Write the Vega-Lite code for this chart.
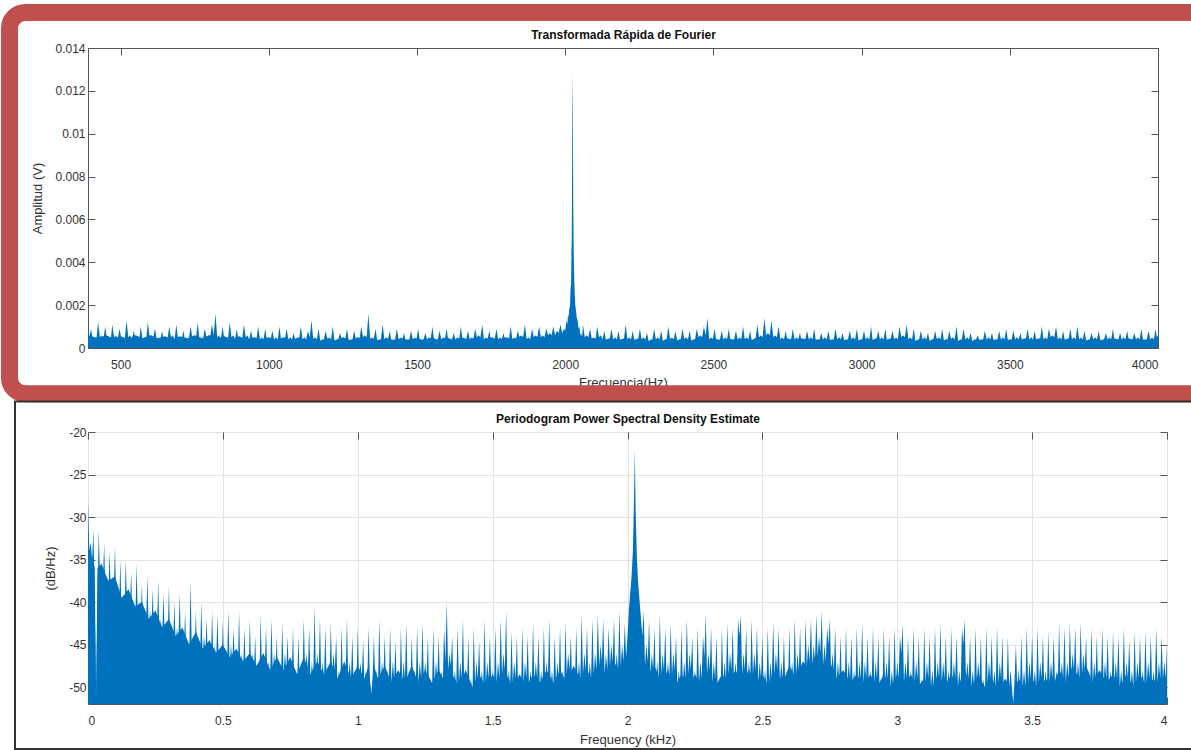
{
"$schema": "https://vega.github.io/schema/vega-lite/v6.json",
"padding": {"left": 0, "top": 3, "right": 0, "bottom": 0},
"background": "white",
"spacing": -4,
"config": {
  "font": "Liberation Sans",
  "view": {"stroke": "#555555", "strokeWidth": 1},
  "axis": {"labelFont": "Liberation Sans", "labelFontSize": 12, "labelColor": "#333333", "titleFont": "Liberation Sans", "titleFontSize": 13, "titleFontWeight": "normal", "titleColor": "#333333", "domain": false, "tickColor": "#555555", "tickSize": -7, "grid": false}
},
"vconcat": [
{
  "width": 1070, "height": 300,
  "data": {"values": [
{"f":390,"a":0.0010},{"f":395,"a":0.0005},{"f":400,"a":0.0009},{"f":406,"a":0.0004},{"f":412,"a":0.0005},{"f":418,"a":0.0004},{"f":424,"a":0.0012},{"f":430,"a":0.0005},{"f":436,"a":0.0006},{"f":442,"a":0.0004},{"f":448,"a":0.0010},{"f":454,"a":0.0004},{"f":460,"a":0.0004},{"f":466,"a":0.0003},{"f":472,"a":0.0011},{"f":478,"a":0.0005},{"f":484,"a":0.0006},{"f":490,"a":0.0004},{"f":496,"a":0.0009},{"f":502,"a":0.0005},{"f":508,"a":0.0005},{"f":514,"a":0.0004},{"f":520,"a":0.0013},{"f":526,"a":0.0005},{"f":532,"a":0.0006},{"f":538,"a":0.0004},{"f":544,"a":0.0008},{"f":550,"a":0.0004},{"f":556,"a":0.0004},{"f":562,"a":0.0003},{"f":568,"a":0.0010},{"f":574,"a":0.0004},{"f":580,"a":0.0005},{"f":586,"a":0.0004},{"f":592,"a":0.0012},{"f":598,"a":0.0005},{"f":604,"a":0.0006},{"f":610,"a":0.0005},{"f":616,"a":0.0009},{"f":622,"a":0.0004},{"f":628,"a":0.0005},{"f":634,"a":0.0004},{"f":640,"a":0.0008},{"f":646,"a":0.0003},{"f":652,"a":0.0004},{"f":658,"a":0.0004},{"f":664,"a":0.0010},{"f":670,"a":0.0005},{"f":676,"a":0.0006},{"f":682,"a":0.0004},{"f":688,"a":0.0011},{"f":694,"a":0.0004},{"f":700,"a":0.0005},{"f":706,"a":0.0004},{"f":712,"a":0.0008},{"f":718,"a":0.0003},{"f":724,"a":0.0004},{"f":730,"a":0.0004},{"f":736,"a":0.0010},{"f":742,"a":0.0005},{"f":748,"a":0.0006},{"f":754,"a":0.0004},{"f":760,"a":0.0012},{"f":766,"a":0.0004},{"f":772,"a":0.0005},{"f":778,"a":0.0004},{"f":784,"a":0.0009},{"f":790,"a":0.0005},{"f":796,"a":0.0006},{"f":802,"a":0.0005},{"f":808,"a":0.0011},{"f":814,"a":0.0006},{"f":820,"a":0.0016},{"f":826,"a":0.0005},{"f":832,"a":0.0006},{"f":838,"a":0.0004},{"f":844,"a":0.0010},{"f":850,"a":0.0004},{"f":856,"a":0.0005},{"f":862,"a":0.0004},{"f":868,"a":0.0012},{"f":874,"a":0.0005},{"f":880,"a":0.0006},{"f":886,"a":0.0004},{"f":892,"a":0.0009},{"f":898,"a":0.0003},{"f":904,"a":0.0004},{"f":910,"a":0.0004},{"f":916,"a":0.0011},{"f":922,"a":0.0005},{"f":928,"a":0.0006},{"f":934,"a":0.0004},{"f":940,"a":0.0008},{"f":946,"a":0.0004},{"f":952,"a":0.0005},{"f":958,"a":0.0004},{"f":964,"a":0.0010},{"f":970,"a":0.0004},{"f":976,"a":0.0005},{"f":982,"a":0.0004},{"f":988,"a":0.0009},{"f":994,"a":0.0003},{"f":1000,"a":0.0004},{"f":1006,"a":0.0004},
{"f":1012,"a":0.0008},{"f":1018,"a":0.0004},{"f":1024,"a":0.0005},{"f":1030,"a":0.0004},{"f":1036,"a":0.0010},{"f":1042,"a":0.0003},{"f":1048,"a":0.0004},{"f":1054,"a":0.0004},{"f":1060,"a":0.0009},{"f":1066,"a":0.0004},{"f":1072,"a":0.0005},{"f":1078,"a":0.0004},{"f":1084,"a":0.0007},{"f":1090,"a":0.0003},{"f":1096,"a":0.0004},{"f":1102,"a":0.0004},{"f":1108,"a":0.0010},{"f":1114,"a":0.0004},{"f":1120,"a":0.0005},{"f":1126,"a":0.0004},{"f":1132,"a":0.0008},{"f":1138,"a":0.0005},{"f":1144,"a":0.0013},{"f":1150,"a":0.0004},{"f":1156,"a":0.0005},{"f":1162,"a":0.0004},{"f":1168,"a":0.0009},{"f":1174,"a":0.0003},{"f":1180,"a":0.0004},{"f":1186,"a":0.0004},{"f":1192,"a":0.0008},{"f":1198,"a":0.0004},{"f":1204,"a":0.0005},{"f":1210,"a":0.0004},{"f":1216,"a":0.0010},{"f":1222,"a":0.0003},{"f":1228,"a":0.0004},{"f":1234,"a":0.0004},{"f":1240,"a":0.0007},{"f":1246,"a":0.0004},{"f":1252,"a":0.0005},{"f":1258,"a":0.0004},{"f":1264,"a":0.0009},{"f":1270,"a":0.0003},{"f":1276,"a":0.0004},{"f":1282,"a":0.0004},{"f":1288,"a":0.0008},{"f":1294,"a":0.0004},{"f":1300,"a":0.0005},{"f":1306,"a":0.0004},{"f":1312,"a":0.0010},{"f":1318,"a":0.0005},{"f":1324,"a":0.0006},{"f":1330,"a":0.0005},{"f":1336,"a":0.0016},{"f":1342,"a":0.0004},{"f":1348,"a":0.0005},{"f":1354,"a":0.0004},{"f":1360,"a":0.0009},{"f":1366,"a":0.0003},{"f":1372,"a":0.0004},{"f":1378,"a":0.0004},{"f":1384,"a":0.0011},{"f":1390,"a":0.0004},{"f":1396,"a":0.0005},{"f":1402,"a":0.0004},{"f":1408,"a":0.0008},{"f":1414,"a":0.0003},{"f":1420,"a":0.0004},{"f":1426,"a":0.0004},{"f":1432,"a":0.0009},{"f":1438,"a":0.0004},{"f":1444,"a":0.0005},{"f":1450,"a":0.0004},{"f":1456,"a":0.0007},{"f":1462,"a":0.0003},{"f":1468,"a":0.0004},{"f":1474,"a":0.0004},{"f":1480,"a":0.0008},{"f":1486,"a":0.0004},{"f":1492,"a":0.0005},{"f":1498,"a":0.0004},{"f":1504,"a":0.0009},{"f":1510,"a":0.0003},{"f":1516,"a":0.0004},{"f":1522,"a":0.0004},{"f":1528,"a":0.0007},{"f":1534,"a":0.0004},{"f":1540,"a":0.0005},{"f":1546,"a":0.0004},{"f":1552,"a":0.0010},{"f":1558,"a":0.0003},{"f":1564,"a":0.0004},{"f":1570,"a":0.0004},{"f":1576,"a":0.0008},{"f":1582,"a":0.0004},{"f":1588,"a":0.0005},{"f":1594,"a":0.0004},{"f":1600,"a":0.0009},{"f":1606,"a":0.0003},{"f":1612,"a":0.0004},{"f":1618,"a":0.0004},{"f":1624,"a":0.0007},{"f":1630,"a":0.0004},{"f":1636,"a":0.0005},{"f":1642,"a":0.0004},{"f":1648,"a":0.0010},{"f":1654,"a":0.0003},{"f":1660,"a":0.0004},{"f":1666,"a":0.0004},{"f":1672,"a":0.0008},{"f":1678,"a":0.0004},{"f":1684,"a":0.0005},{"f":1690,"a":0.0004},{"f":1696,"a":0.0009},{"f":1702,"a":0.0005},{"f":1708,"a":0.0006},{"f":1714,"a":0.0005},{"f":1720,"a":0.0011},{"f":1726,"a":0.0004},{"f":1732,"a":0.0005},{"f":1738,"a":0.0004},{"f":1744,"a":0.0008},{"f":1750,"a":0.0003},{"f":1756,"a":0.0004},{"f":1762,"a":0.0004},{"f":1768,"a":0.0009},{"f":1774,"a":0.0004},{"f":1780,"a":0.0005},{"f":1786,"a":0.0004},{"f":1792,"a":0.0007},{"f":1798,"a":0.0003},{"f":1804,"a":0.0004},{"f":1810,"a":0.0004},{"f":1816,"a":0.0010},{"f":1822,"a":0.0004},{"f":1828,"a":0.0005},{"f":1834,"a":0.0004},{"f":1840,"a":0.0008},{"f":1846,"a":0.0005},{"f":1852,"a":0.0006},{"f":1858,"a":0.0005},{"f":1864,"a":0.0011},{"f":1870,"a":0.0004},{"f":1876,"a":0.0005},{"f":1882,"a":0.0004},{"f":1888,"a":0.0009},{"f":1894,"a":0.0005},{"f":1900,"a":0.0006},{"f":1906,"a":0.0005},
{"f":1912,"a":0.0010},{"f":1918,"a":0.0005},{"f":1924,"a":0.0006},{"f":1930,"a":0.0005},{"f":1936,"a":0.0009},{"f":1942,"a":0.0006},{"f":1948,"a":0.0007},{"f":1954,"a":0.0006},{"f":1960,"a":0.0010},{"f":1966,"a":0.0006},{"f":1972,"a":0.0008},{"f":1978,"a":0.0007},{"f":1984,"a":0.0011},{"f":1990,"a":0.0007},{"f":1996,"a":0.0009},{"f":2000,"a":0.0008},{"f":2004,"a":0.0013},{"f":2007,"a":0.0011},{"f":2010,"a":0.0016},{"f":2012,"a":0.0014},{"f":2014,"a":0.0020},{"f":2016,"a":0.0018},{"f":2018,"a":0.0028},{"f":2020,"a":0.0030},{"f":2021,"a":0.0045},{"f":2022,"a":0.0050},{"f":2023,"a":0.0075},{"f":2024,"a":0.0108},{"f":2025,"a":0.0129},{"f":2026,"a":0.0108},{"f":2027,"a":0.0070},{"f":2028,"a":0.0055},{"f":2029,"a":0.0042},{"f":2030,"a":0.0035},{"f":2032,"a":0.0026},{"f":2034,"a":0.0020},{"f":2036,"a":0.0018},{"f":2039,"a":0.0014},{"f":2042,"a":0.0013},{"f":2045,"a":0.0009},{"f":2048,"a":0.0010},{"f":2051,"a":0.0006},{"f":2054,"a":0.0007},{"f":2057,"a":0.0005},{"f":2060,"a":0.0011},{"f":2066,"a":0.0005},{"f":2072,"a":0.0006},{"f":2078,"a":0.0005},
{"f":2084,"a":0.0009},{"f":2090,"a":0.0004},{"f":2096,"a":0.0005},{"f":2102,"a":0.0004},{"f":2108,"a":0.0010},{"f":2114,"a":0.0005},{"f":2120,"a":0.0006},{"f":2126,"a":0.0004},{"f":2132,"a":0.0008},{"f":2138,"a":0.0003},{"f":2144,"a":0.0004},{"f":2150,"a":0.0004},{"f":2156,"a":0.0009},{"f":2162,"a":0.0004},{"f":2168,"a":0.0005},{"f":2174,"a":0.0004},{"f":2180,"a":0.0008},{"f":2186,"a":0.0003},{"f":2192,"a":0.0004},{"f":2198,"a":0.0004},{"f":2204,"a":0.0011},{"f":2210,"a":0.0004},{"f":2216,"a":0.0005},{"f":2222,"a":0.0004},{"f":2228,"a":0.0008},{"f":2234,"a":0.0003},{"f":2240,"a":0.0004},{"f":2246,"a":0.0004},{"f":2252,"a":0.0009},{"f":2258,"a":0.0004},{"f":2264,"a":0.0005},{"f":2270,"a":0.0004},{"f":2276,"a":0.0007},{"f":2282,"a":0.0003},{"f":2288,"a":0.0004},{"f":2294,"a":0.0004},{"f":2300,"a":0.0009},{"f":2306,"a":0.0004},{"f":2312,"a":0.0005},{"f":2318,"a":0.0004},{"f":2324,"a":0.0008},{"f":2330,"a":0.0003},{"f":2336,"a":0.0004},{"f":2342,"a":0.0004},{"f":2348,"a":0.0010},{"f":2354,"a":0.0004},{"f":2360,"a":0.0005},{"f":2366,"a":0.0004},{"f":2372,"a":0.0008},{"f":2378,"a":0.0003},{"f":2384,"a":0.0004},{"f":2390,"a":0.0004},{"f":2396,"a":0.0009},{"f":2402,"a":0.0004},{"f":2408,"a":0.0005},{"f":2414,"a":0.0004},{"f":2420,"a":0.0008},{"f":2426,"a":0.0003},{"f":2432,"a":0.0004},{"f":2438,"a":0.0004},{"f":2444,"a":0.0009},{"f":2450,"a":0.0005},{"f":2456,"a":0.0006},{"f":2462,"a":0.0005},{"f":2468,"a":0.0010},{"f":2474,"a":0.0006},{"f":2480,"a":0.0014},{"f":2486,"a":0.0004},{"f":2492,"a":0.0005},{"f":2498,"a":0.0004},{"f":2504,"a":0.0009},{"f":2510,"a":0.0003},{"f":2516,"a":0.0004},{"f":2522,"a":0.0004},{"f":2528,"a":0.0008},{"f":2534,"a":0.0004},{"f":2540,"a":0.0005},{"f":2546,"a":0.0004},{"f":2552,"a":0.0009},{"f":2558,"a":0.0003},{"f":2564,"a":0.0004},{"f":2570,"a":0.0004},{"f":2576,"a":0.0008},{"f":2582,"a":0.0004},{"f":2588,"a":0.0005},{"f":2594,"a":0.0004},{"f":2600,"a":0.0010},{"f":2606,"a":0.0004},{"f":2612,"a":0.0005},{"f":2618,"a":0.0004},{"f":2624,"a":0.0008},{"f":2630,"a":0.0003},{"f":2636,"a":0.0004},{"f":2642,"a":0.0004},{"f":2648,"a":0.0011},{"f":2654,"a":0.0005},{"f":2660,"a":0.0006},{"f":2666,"a":0.0005},{"f":2672,"a":0.0014},{"f":2678,"a":0.0006},{"f":2684,"a":0.0007},{"f":2690,"a":0.0006},{"f":2696,"a":0.0013},{"f":2702,"a":0.0005},{"f":2708,"a":0.0006},{"f":2714,"a":0.0005},{"f":2720,"a":0.0010},{"f":2726,"a":0.0004},{"f":2732,"a":0.0005},{"f":2738,"a":0.0004},{"f":2744,"a":0.0008},{"f":2750,"a":0.0003},{"f":2756,"a":0.0004},{"f":2762,"a":0.0004},{"f":2768,"a":0.0009},{"f":2774,"a":0.0004},{"f":2780,"a":0.0005},{"f":2786,"a":0.0004},{"f":2792,"a":0.0007},{"f":2798,"a":0.0003},{"f":2804,"a":0.0004},{"f":2810,"a":0.0004},{"f":2816,"a":0.0008},{"f":2822,"a":0.0004},{"f":2828,"a":0.0005},{"f":2834,"a":0.0004},{"f":2840,"a":0.0009},{"f":2846,"a":0.0003},{"f":2852,"a":0.0004},{"f":2858,"a":0.0004},{"f":2864,"a":0.0007},{"f":2870,"a":0.0004},{"f":2876,"a":0.0005},{"f":2882,"a":0.0004},{"f":2888,"a":0.0008},{"f":2894,"a":0.0003},{"f":2900,"a":0.0004},{"f":2906,"a":0.0004},{"f":2912,"a":0.0009},{"f":2918,"a":0.0004},{"f":2924,"a":0.0005},{"f":2930,"a":0.0004},{"f":2936,"a":0.0007},{"f":2942,"a":0.0003},{"f":2948,"a":0.0004},{"f":2954,"a":0.0004},{"f":2960,"a":0.0008},{"f":2966,"a":0.0004},{"f":2972,"a":0.0005},{"f":2978,"a":0.0004},{"f":2984,"a":0.0009},{"f":2990,"a":0.0003},{"f":2996,"a":0.0004},{"f":3002,"a":0.0004},
{"f":3008,"a":0.0008},{"f":3014,"a":0.0004},{"f":3020,"a":0.0005},{"f":3026,"a":0.0004},{"f":3032,"a":0.0010},{"f":3038,"a":0.0003},{"f":3044,"a":0.0004},{"f":3050,"a":0.0004},{"f":3056,"a":0.0008},{"f":3062,"a":0.0004},{"f":3068,"a":0.0005},{"f":3074,"a":0.0004},{"f":3080,"a":0.0009},{"f":3086,"a":0.0003},{"f":3092,"a":0.0004},{"f":3098,"a":0.0004},{"f":3104,"a":0.0008},{"f":3110,"a":0.0004},{"f":3116,"a":0.0005},{"f":3122,"a":0.0004},{"f":3128,"a":0.0010},{"f":3134,"a":0.0005},{"f":3140,"a":0.0006},{"f":3146,"a":0.0005},{"f":3152,"a":0.0011},{"f":3158,"a":0.0004},{"f":3164,"a":0.0005},{"f":3170,"a":0.0004},{"f":3176,"a":0.0009},{"f":3182,"a":0.0003},{"f":3188,"a":0.0004},{"f":3194,"a":0.0004},{"f":3200,"a":0.0008},{"f":3206,"a":0.0004},{"f":3212,"a":0.0005},{"f":3218,"a":0.0004},{"f":3224,"a":0.0007},{"f":3230,"a":0.0003},{"f":3236,"a":0.0004},{"f":3242,"a":0.0004},{"f":3248,"a":0.0008},{"f":3254,"a":0.0004},{"f":3260,"a":0.0005},{"f":3266,"a":0.0004},{"f":3272,"a":0.0009},{"f":3278,"a":0.0003},{"f":3284,"a":0.0004},{"f":3290,"a":0.0004},{"f":3296,"a":0.0008},{"f":3302,"a":0.0004},{"f":3308,"a":0.0005},{"f":3314,"a":0.0004},{"f":3320,"a":0.0010},{"f":3326,"a":0.0003},{"f":3332,"a":0.0004},{"f":3338,"a":0.0004},{"f":3344,"a":0.0009},{"f":3350,"a":0.0004},{"f":3356,"a":0.0005},{"f":3362,"a":0.0004},{"f":3368,"a":0.0007},{"f":3374,"a":0.0003},{"f":3380,"a":0.0004},{"f":3386,"a":0.0004},{"f":3392,"a":0.0006},{"f":3398,"a":0.0003},{"f":3404,"a":0.0004},{"f":3410,"a":0.0004},{"f":3416,"a":0.0008},{"f":3422,"a":0.0004},{"f":3428,"a":0.0005},{"f":3434,"a":0.0004},{"f":3440,"a":0.0007},{"f":3446,"a":0.0003},{"f":3452,"a":0.0004},{"f":3458,"a":0.0004},{"f":3464,"a":0.0008},{"f":3470,"a":0.0004},{"f":3476,"a":0.0005},{"f":3482,"a":0.0004},{"f":3488,"a":0.0009},{"f":3494,"a":0.0003},{"f":3500,"a":0.0004},{"f":3506,"a":0.0004},{"f":3512,"a":0.0008},{"f":3518,"a":0.0004},{"f":3524,"a":0.0005},{"f":3530,"a":0.0004},{"f":3536,"a":0.0007},{"f":3542,"a":0.0003},{"f":3548,"a":0.0004},{"f":3554,"a":0.0004},{"f":3560,"a":0.0009},{"f":3566,"a":0.0004},{"f":3572,"a":0.0005},{"f":3578,"a":0.0004},{"f":3584,"a":0.0008},{"f":3590,"a":0.0003},{"f":3596,"a":0.0004},{"f":3602,"a":0.0004},{"f":3608,"a":0.0010},{"f":3614,"a":0.0004},{"f":3620,"a":0.0005},{"f":3626,"a":0.0004},{"f":3632,"a":0.0009},{"f":3638,"a":0.0005},{"f":3644,"a":0.0006},{"f":3650,"a":0.0005},{"f":3656,"a":0.0010},{"f":3662,"a":0.0004},{"f":3668,"a":0.0005},{"f":3674,"a":0.0004},{"f":3680,"a":0.0008},{"f":3686,"a":0.0003},{"f":3692,"a":0.0004},{"f":3698,"a":0.0004},{"f":3704,"a":0.0009},{"f":3710,"a":0.0004},{"f":3716,"a":0.0005},{"f":3722,"a":0.0004},{"f":3728,"a":0.0010},{"f":3734,"a":0.0004},{"f":3740,"a":0.0005},{"f":3746,"a":0.0004},{"f":3752,"a":0.0008},{"f":3758,"a":0.0003},{"f":3764,"a":0.0004},{"f":3770,"a":0.0004},{"f":3776,"a":0.0007},{"f":3782,"a":0.0004},{"f":3788,"a":0.0005},{"f":3794,"a":0.0004},{"f":3800,"a":0.0008},{"f":3806,"a":0.0003},{"f":3812,"a":0.0004},{"f":3818,"a":0.0004},{"f":3824,"a":0.0007},{"f":3830,"a":0.0004},{"f":3836,"a":0.0005},{"f":3842,"a":0.0004},{"f":3848,"a":0.0009},{"f":3854,"a":0.0003},{"f":3860,"a":0.0004},{"f":3866,"a":0.0004},{"f":3872,"a":0.0007},{"f":3878,"a":0.0004},{"f":3884,"a":0.0005},{"f":3890,"a":0.0004},{"f":3896,"a":0.0008},{"f":3902,"a":0.0003},{"f":3908,"a":0.0004},{"f":3914,"a":0.0004},{"f":3920,"a":0.0007},{"f":3926,"a":0.0004},{"f":3932,"a":0.0005},{"f":3938,"a":0.0004},{"f":3944,"a":0.0009},{"f":3950,"a":0.0003},{"f":3956,"a":0.0004},{"f":3962,"a":0.0004},{"f":3968,"a":0.0008},{"f":3974,"a":0.0004},{"f":3980,"a":0.0005},{"f":3986,"a":0.0004},{"f":3992,"a":0.0009},{"f":3996,"a":0.0005},{"f":4000,"a":0.0006}
  ]},
  "layer": [
    {"data": {"values": [
{"f":390,"a":0.0006},{"f":425,"a":0.00045},{"f":450,"a":0.0006},{"f":475,"a":0.00045},{"f":500,"a":0.00055},{"f":525,"a":0.0004},{"f":550,"a":0.0006},{"f":575,"a":0.00045},{"f":600,"a":0.0006},{"f":625,"a":0.00045},{"f":650,"a":0.00055},{"f":675,"a":0.0004},{"f":700,"a":0.00055},{"f":725,"a":0.00045},{"f":750,"a":0.0006},{"f":775,"a":0.00045},{"f":800,"a":0.0006},{"f":825,"a":0.00045},{"f":850,"a":0.00055},{"f":875,"a":0.0004},{"f":900,"a":0.00055},{"f":925,"a":0.0004},{"f":950,"a":0.0005},{"f":975,"a":0.0004},{"f":1000,"a":0.0005},{"f":1025,"a":0.00035},{"f":1050,"a":0.0005},{"f":1075,"a":0.00035},{"f":1100,"a":0.0005},{"f":1125,"a":0.00035},{"f":1150,"a":0.00045},{"f":1175,"a":0.00035},{"f":1200,"a":0.00045},{"f":1225,"a":0.00035},{"f":1250,"a":0.0005},{"f":1275,"a":0.00035},{"f":1300,"a":0.0005},{"f":1325,"a":0.0004},{"f":1350,"a":0.00045},{"f":1375,"a":0.00035},{"f":1400,"a":0.00045},{"f":1425,"a":0.00035},{"f":1450,"a":0.00045},{"f":1475,"a":0.00035},{"f":1500,"a":0.00045},{"f":1525,"a":0.00035},{"f":1550,"a":0.0005},{"f":1575,"a":0.00035},{"f":1600,"a":0.0005},{"f":1625,"a":0.00035},{"f":1650,"a":0.0005},{"f":1675,"a":0.0004},{"f":1700,"a":0.0005},{"f":1725,"a":0.0004},{"f":1750,"a":0.0005},{"f":1775,"a":0.0004},{"f":1800,"a":0.0005},{"f":1825,"a":0.0004},{"f":1850,"a":0.00055},{"f":1875,"a":0.0004},{"f":1900,"a":0.00055},{"f":1925,"a":0.00045},{"f":1950,"a":0.0006},{"f":1975,"a":0.0005},{"f":2000,"a":0.0007},{"f":2050,"a":0.0006},{"f":2075,"a":0.00045},{"f":2100,"a":0.00045},{"f":2125,"a":0.00035},{"f":2150,"a":0.00045},{"f":2175,"a":0.00035},{"f":2200,"a":0.00045},{"f":2225,"a":0.00035},{"f":2250,"a":0.00045},{"f":2275,"a":0.0003},{"f":2300,"a":0.0004},{"f":2325,"a":0.0003},{"f":2350,"a":0.00045},{"f":2375,"a":0.00035},{"f":2400,"a":0.00045},{"f":2425,"a":0.00035},{"f":2450,"a":0.00045},{"f":2475,"a":0.00035},{"f":2500,"a":0.00045},{"f":2525,"a":0.00035},{"f":2550,"a":0.00045},{"f":2575,"a":0.00035},{"f":2600,"a":0.00045},{"f":2625,"a":0.00035},{"f":2650,"a":0.0005},{"f":2675,"a":0.0004},{"f":2700,"a":0.0005},{"f":2725,"a":0.0004},{"f":2750,"a":0.00045},{"f":2775,"a":0.00035},{"f":2800,"a":0.00045},{"f":2825,"a":0.00035},{"f":2850,"a":0.0004},{"f":2875,"a":0.0003},{"f":2900,"a":0.0004},{"f":2925,"a":0.0003},{"f":2950,"a":0.0004},{"f":2975,"a":0.0003},{"f":3000,"a":0.0004},{"f":3025,"a":0.0003},{"f":3050,"a":0.00045},{"f":3075,"a":0.00035},{"f":3100,"a":0.00045},{"f":3125,"a":0.00035},{"f":3150,"a":0.00045},{"f":3175,"a":0.0003},{"f":3200,"a":0.0004},{"f":3225,"a":0.0003},{"f":3250,"a":0.00045},{"f":3275,"a":0.00035},{"f":3300,"a":0.00045},{"f":3325,"a":0.0003},{"f":3350,"a":0.0004},{"f":3375,"a":0.0003},{"f":3400,"a":0.0004},{"f":3425,"a":0.0003},{"f":3450,"a":0.0004},{"f":3475,"a":0.0003},{"f":3500,"a":0.0004},{"f":3525,"a":0.0003},{"f":3550,"a":0.00045},{"f":3575,"a":0.00035},{"f":3600,"a":0.00045},{"f":3625,"a":0.00035},{"f":3650,"a":0.00045},{"f":3675,"a":0.00035},{"f":3700,"a":0.00045},{"f":3725,"a":0.00035},{"f":3750,"a":0.0004},{"f":3775,"a":0.0003},{"f":3800,"a":0.0004},{"f":3825,"a":0.0003},{"f":3850,"a":0.00045},{"f":3875,"a":0.00035},{"f":3900,"a":0.00045},{"f":3925,"a":0.00035},{"f":3950,"a":0.0004},{"f":3975,"a":0.00035},{"f":4000,"a":0.00045}
     ]},
     "mark": {"type": "area", "color": "#0072BD", "clip": true},
     "encoding": {
       "x": {"field": "f", "type": "quantitative", "axis": null},
       "y": {"field": "a", "type": "quantitative", "axis": null}
     }},
    {"mark": {"type": "area", "color": "#0072BD", "clip": true},
     "encoding": {
       "x": {"field": "f", "type": "quantitative", "scale": {"domain": [390, 4000], "nice": false, "zero": false},
             "axis": {"title": "Frecuencia(Hz)", "values": [500,1000,1500,2000,2500,3000,3500,4000], "format": "d", "labelPadding": 18, "titlePadding": 6}},
       "y": {"field": "a", "type": "quantitative", "scale": {"domain": [0, 0.014], "nice": false},
             "axis": {"title": "Amplitud (V)", "values": [0,0.002,0.004,0.006,0.008,0.01,0.012,0.014], "format": "~g", "labelPadding": 10, "titlePadding": 10}}
     }},
    {"mark": {"type": "line", "opacity": 0},
     "encoding": {
       "x": {"field": "f", "type": "quantitative", "axis": {"orient": "top", "labels": false, "values": [500,1000,1500,2000,2500,3000,3500,4000], "title": "Transformada Rápida de Fourier", "titleFontWeight": "bold", "titleFontSize": 12, "titleColor": "#111111", "titlePadding": 6}},
       "y": {"field": "a", "type": "quantitative", "axis": {"orient": "right", "labels": false, "title": null, "values": [0,0.002,0.004,0.006,0.008,0.01,0.012,0.014]}}
     }},
    {"data": {"values": [{"frame": "highlight"}]},
     "mark": {"type": "rect", "filled": false, "color": "#C0504D", "strokeWidth": 17, "cornerRadius": 16, "clip": false},
     "encoding": {
       "x": {"datum": 125, "type": "quantitative", "axis": null},
       "x2": {"datum": 4200},
       "y": {"datum": 0.01566, "type": "quantitative", "axis": null},
       "y2": {"datum": -0.00213}
     }}
  ],
  "resolve": {"axis": {"x": "independent", "y": "independent"}}
},
{
  "width": 1079, "height": 272,
  "data": {"values": [
{"f":0.00,"p":-28},{"f":0.005,"p":-34},{"f":0.01,"p":-33},{"f":0.015,"p":-35},{"f":0.02,"p":-31.5},{"f":0.025,"p":-40},{"f":0.03,"p":-52},{"f":0.035,"p":-40},{"f":0.04,"p":-31.5},{"f":0.045,"p":-38},{"f":0.05,"p":-36},{"f":0.055,"p":-38},{"f":0.06,"p":-33},{"f":0.065,"p":-40},{"f":0.07,"p":-38},{"f":0.075,"p":-40},{"f":0.08,"p":-34},{"f":0.085,"p":-39.5},{"f":0.09,"p":-37},{"f":0.095,"p":-39},{"f":0.10,"p":-33.5},{"f":0.105,"p":-41},{"f":0.11,"p":-39},{"f":0.115,"p":-41},{"f":0.12,"p":-35},{"f":0.125,"p":-42.5},{"f":0.13,"p":-40},{"f":0.135,"p":-42},{"f":0.14,"p":-35},{"f":0.145,"p":-41},{"f":0.15,"p":-39},{"f":0.155,"p":-41},{"f":0.16,"p":-36.5},{"f":0.165,"p":-43},{"f":0.17,"p":-41},{"f":0.175,"p":-43},{"f":0.18,"p":-35.5},{"f":0.185,"p":-42.5},{"f":0.19,"p":-40},{"f":0.195,"p":-42},{"f":0.20,"p":-38},{"f":0.205,"p":-44},{"f":0.21,"p":-42},{"f":0.215,"p":-43.5},{"f":0.22,"p":-37},{"f":0.225,"p":-43},{"f":0.23,"p":-41},{"f":0.235,"p":-43},{"f":0.24,"p":-38.5},{"f":0.245,"p":-44.5},{"f":0.25,"p":-43},{"f":0.255,"p":-45},{"f":0.26,"p":-37.5},{"f":0.265,"p":-44},{"f":0.27,"p":-42},{"f":0.275,"p":-44},{"f":0.28,"p":-39},{"f":0.285,"p":-45},{"f":0.29,"p":-43},{"f":0.295,"p":-45},{"f":0.30,"p":-38},{"f":0.305,"p":-46.5},{"f":0.31,"p":-44},{"f":0.315,"p":-46},{"f":0.32,"p":-40},{"f":0.325,"p":-45},{"f":0.33,"p":-43},{"f":0.335,"p":-45},{"f":0.34,"p":-39},{"f":0.345,"p":-46},{"f":0.35,"p":-44},{"f":0.355,"p":-46},{"f":0.36,"p":-41},{"f":0.365,"p":-47.5},{"f":0.37,"p":-45},{"f":0.375,"p":-47},{"f":0.38,"p":-37.5},{"f":0.385,"p":-46},{"f":0.39,"p":-44},{"f":0.395,"p":-46},{"f":0.40,"p":-41},{"f":0.405,"p":-48},{"f":0.41,"p":-46},{"f":0.415,"p":-47.5},{"f":0.42,"p":-40},{"f":0.425,"p":-46.5},{"f":0.43,"p":-44},{"f":0.435,"p":-46},{"f":0.44,"p":-42},{"f":0.445,"p":-48},{"f":0.45,"p":-46},{"f":0.455,"p":-48},{"f":0.46,"p":-41},{"f":0.465,"p":-47.5},{"f":0.47,"p":-45},{"f":0.475,"p":-47},{"f":0.48,"p":-41.5},{"f":0.485,"p":-48},{"f":0.49,"p":-46},{"f":0.495,"p":-48},
{"f":0.50,"p":-42},{"f":0.505,"p":-49},{"f":0.51,"p":-47},{"f":0.515,"p":-48.5},{"f":0.52,"p":-41},{"f":0.525,"p":-47.5},{"f":0.53,"p":-45},{"f":0.535,"p":-47},{"f":0.54,"p":-43},{"f":0.545,"p":-49},{"f":0.55,"p":-47},{"f":0.555,"p":-49},{"f":0.56,"p":-41},{"f":0.565,"p":-48.5},{"f":0.57,"p":-46},{"f":0.575,"p":-48},{"f":0.58,"p":-43},{"f":0.585,"p":-49},{"f":0.59,"p":-47},{"f":0.595,"p":-49},{"f":0.60,"p":-42},{"f":0.605,"p":-48.5},{"f":0.61,"p":-46},{"f":0.615,"p":-48},{"f":0.62,"p":-44},{"f":0.625,"p":-50},{"f":0.63,"p":-48},{"f":0.635,"p":-50},{"f":0.64,"p":-41.5},{"f":0.645,"p":-48.5},{"f":0.65,"p":-46},{"f":0.655,"p":-48},{"f":0.66,"p":-43},{"f":0.665,"p":-49},{"f":0.67,"p":-47},{"f":0.675,"p":-49},{"f":0.68,"p":-42},{"f":0.685,"p":-48.5},{"f":0.69,"p":-46},{"f":0.695,"p":-48},{"f":0.70,"p":-44},{"f":0.705,"p":-50},{"f":0.71,"p":-48},{"f":0.715,"p":-50},{"f":0.72,"p":-42.5},{"f":0.725,"p":-48.5},{"f":0.73,"p":-46},{"f":0.735,"p":-48},{"f":0.74,"p":-44},{"f":0.745,"p":-49.5},{"f":0.75,"p":-47},{"f":0.755,"p":-49},{"f":0.76,"p":-43},{"f":0.765,"p":-50},{"f":0.77,"p":-48},{"f":0.775,"p":-50},{"f":0.78,"p":-44},{"f":0.785,"p":-49.5},{"f":0.79,"p":-47},{"f":0.795,"p":-49},{"f":0.80,"p":-42},{"f":0.805,"p":-48.5},{"f":0.81,"p":-46},{"f":0.815,"p":-48},{"f":0.82,"p":-43},{"f":0.825,"p":-49.5},{"f":0.83,"p":-47},{"f":0.835,"p":-49},{"f":0.84,"p":-40.5},{"f":0.845,"p":-48.5},{"f":0.85,"p":-46},{"f":0.855,"p":-48},{"f":0.86,"p":-42},{"f":0.865,"p":-49.5},{"f":0.87,"p":-47},{"f":0.875,"p":-49},{"f":0.88,"p":-43},{"f":0.885,"p":-50},{"f":0.89,"p":-48},{"f":0.895,"p":-50},{"f":0.90,"p":-42.5},{"f":0.905,"p":-48.5},{"f":0.91,"p":-46},{"f":0.915,"p":-48},{"f":0.92,"p":-44},{"f":0.925,"p":-50},{"f":0.93,"p":-48},{"f":0.935,"p":-50},{"f":0.94,"p":-43},{"f":0.945,"p":-49.5},{"f":0.95,"p":-47},{"f":0.955,"p":-49},{"f":0.96,"p":-42},{"f":0.965,"p":-49.5},{"f":0.97,"p":-47},{"f":0.975,"p":-49},{"f":0.98,"p":-44},{"f":0.985,"p":-50},{"f":0.99,"p":-48},{"f":0.995,"p":-50},
{"f":1.00,"p":-43},{"f":1.005,"p":-49.5},{"f":1.01,"p":-47},{"f":1.015,"p":-49},{"f":1.02,"p":-44.5},{"f":1.025,"p":-50},{"f":1.03,"p":-48},{"f":1.035,"p":-50},{"f":1.04,"p":-43},{"f":1.045,"p":-49},{"f":1.05,"p":-51},{"f":1.055,"p":-49},{"f":1.06,"p":-44},{"f":1.065,"p":-50},{"f":1.07,"p":-48},{"f":1.075,"p":-50},{"f":1.08,"p":-42},{"f":1.085,"p":-49.5},{"f":1.09,"p":-47},{"f":1.095,"p":-49},{"f":1.10,"p":-44},{"f":1.105,"p":-50},{"f":1.11,"p":-48},{"f":1.115,"p":-50},{"f":1.12,"p":-43},{"f":1.125,"p":-49.5},{"f":1.13,"p":-47},{"f":1.135,"p":-49},{"f":1.14,"p":-44.5},{"f":1.145,"p":-51},{"f":1.15,"p":-49},{"f":1.155,"p":-51},{"f":1.16,"p":-43},{"f":1.165,"p":-49.5},{"f":1.17,"p":-47},{"f":1.175,"p":-49},{"f":1.18,"p":-42.5},{"f":1.185,"p":-50},{"f":1.19,"p":-48},{"f":1.195,"p":-50},{"f":1.20,"p":-44},{"f":1.205,"p":-50},{"f":1.21,"p":-48},{"f":1.215,"p":-50},{"f":1.22,"p":-43},{"f":1.225,"p":-49.5},{"f":1.23,"p":-47},{"f":1.235,"p":-49},{"f":1.24,"p":-42.5},{"f":1.245,"p":-49},{"f":1.25,"p":-47},{"f":1.255,"p":-49},{"f":1.26,"p":-44},{"f":1.265,"p":-51},{"f":1.27,"p":-49},{"f":1.275,"p":-51},{"f":1.28,"p":-43},{"f":1.285,"p":-49.5},{"f":1.29,"p":-47},{"f":1.295,"p":-49},{"f":1.30,"p":-44},{"f":1.305,"p":-50},{"f":1.31,"p":-48},{"f":1.315,"p":-50},{"f":1.32,"p":-43},{"f":1.325,"p":-47},{"f":1.33,"p":-40},{"f":1.335,"p":-48},{"f":1.34,"p":-46},{"f":1.345,"p":-47.5},{"f":1.35,"p":-44},{"f":1.355,"p":-50},{"f":1.36,"p":-48},{"f":1.365,"p":-50},{"f":1.37,"p":-43},{"f":1.375,"p":-49.5},{"f":1.38,"p":-47},{"f":1.385,"p":-49},{"f":1.39,"p":-42},{"f":1.395,"p":-50},{"f":1.40,"p":-48},{"f":1.405,"p":-50},{"f":1.41,"p":-44},{"f":1.415,"p":-51},{"f":1.42,"p":-49},{"f":1.425,"p":-51},{"f":1.43,"p":-43},{"f":1.435,"p":-49.5},{"f":1.44,"p":-47},{"f":1.445,"p":-49},{"f":1.45,"p":-44.5},{"f":1.455,"p":-50},{"f":1.46,"p":-48},{"f":1.465,"p":-50},{"f":1.47,"p":-42},{"f":1.475,"p":-49.5},{"f":1.48,"p":-47},{"f":1.485,"p":-49},{"f":1.49,"p":-44},{"f":1.495,"p":-50},
{"f":1.50,"p":-48},{"f":1.505,"p":-50},{"f":1.51,"p":-43},{"f":1.515,"p":-49.5},{"f":1.52,"p":-47},{"f":1.525,"p":-49},{"f":1.53,"p":-42},{"f":1.535,"p":-48.5},{"f":1.54,"p":-46},{"f":1.545,"p":-48},{"f":1.55,"p":-41},{"f":1.555,"p":-50},{"f":1.56,"p":-48},{"f":1.565,"p":-50},{"f":1.57,"p":-43.5},{"f":1.575,"p":-49.5},{"f":1.58,"p":-47},{"f":1.585,"p":-49},{"f":1.59,"p":-44},{"f":1.595,"p":-51},{"f":1.60,"p":-49},{"f":1.605,"p":-51},{"f":1.61,"p":-43},{"f":1.615,"p":-49.5},{"f":1.62,"p":-47},{"f":1.625,"p":-49},{"f":1.63,"p":-44},{"f":1.635,"p":-50},{"f":1.64,"p":-48},{"f":1.645,"p":-50},{"f":1.65,"p":-42.5},{"f":1.655,"p":-49.5},{"f":1.66,"p":-47},{"f":1.665,"p":-49},{"f":1.67,"p":-44},{"f":1.675,"p":-50},{"f":1.68,"p":-48},{"f":1.685,"p":-50},{"f":1.69,"p":-43},{"f":1.695,"p":-49.5},{"f":1.70,"p":-47},{"f":1.705,"p":-49},{"f":1.71,"p":-42},{"f":1.715,"p":-50},{"f":1.72,"p":-48},{"f":1.725,"p":-50},{"f":1.73,"p":-44},{"f":1.735,"p":-49.5},{"f":1.74,"p":-47},{"f":1.745,"p":-49},{"f":1.75,"p":-43},{"f":1.755,"p":-50},{"f":1.76,"p":-48},{"f":1.765,"p":-50},{"f":1.77,"p":-42.5},{"f":1.775,"p":-48.5},{"f":1.78,"p":-46},{"f":1.785,"p":-48},{"f":1.79,"p":-44},{"f":1.795,"p":-50},{"f":1.80,"p":-48},{"f":1.805,"p":-50},{"f":1.81,"p":-43},{"f":1.815,"p":-49.5},{"f":1.82,"p":-47},{"f":1.825,"p":-49},{"f":1.83,"p":-41.5},{"f":1.835,"p":-48.5},{"f":1.84,"p":-46},{"f":1.845,"p":-48},{"f":1.85,"p":-43},{"f":1.855,"p":-49.5},{"f":1.86,"p":-47},{"f":1.865,"p":-49},{"f":1.87,"p":-42},{"f":1.875,"p":-48.5},{"f":1.88,"p":-46},{"f":1.885,"p":-48},{"f":1.89,"p":-41.5},{"f":1.895,"p":-47.5},{"f":1.90,"p":-45},{"f":1.905,"p":-47},{"f":1.91,"p":-42},{"f":1.915,"p":-48.5},{"f":1.92,"p":-46},{"f":1.925,"p":-48},{"f":1.93,"p":-43},{"f":1.935,"p":-47.5},{"f":1.94,"p":-45},{"f":1.945,"p":-47},{"f":1.95,"p":-42},{"f":1.955,"p":-48.5},{"f":1.96,"p":-46},{"f":1.965,"p":-48},{"f":1.97,"p":-41},{"f":1.975,"p":-47.5},{"f":1.98,"p":-45},{"f":1.985,"p":-47},{"f":1.99,"p":-42.5},{"f":1.995,"p":-46.5},
{"f":2.00,"p":-44},{"f":2.005,"p":-41},{"f":2.01,"p":-39},{"f":2.015,"p":-37},{"f":2.02,"p":-34},{"f":2.024,"p":-28},{"f":2.027,"p":-22},{"f":2.03,"p":-29},{"f":2.035,"p":-35},{"f":2.04,"p":-38},{"f":2.045,"p":-40},{"f":2.05,"p":-42},{"f":2.055,"p":-44},{"f":2.06,"p":-41},{"f":2.065,"p":-47.5},{"f":2.07,"p":-45},{"f":2.075,"p":-47},{"f":2.08,"p":-42},{"f":2.085,"p":-48.5},{"f":2.09,"p":-46},{"f":2.095,"p":-48},{"f":2.10,"p":-43},{"f":2.105,"p":-49.5},{"f":2.11,"p":-47},{"f":2.115,"p":-49},{"f":2.12,"p":-41.5},{"f":2.125,"p":-48.5},{"f":2.13,"p":-46},{"f":2.135,"p":-48},{"f":2.14,"p":-43},{"f":2.145,"p":-49.5},{"f":2.15,"p":-47},{"f":2.155,"p":-49},{"f":2.16,"p":-42.5},{"f":2.165,"p":-48.5},{"f":2.17,"p":-46},{"f":2.175,"p":-48},{"f":2.18,"p":-44},{"f":2.185,"p":-50},{"f":2.19,"p":-48},{"f":2.195,"p":-50},{"f":2.20,"p":-43},{"f":2.205,"p":-49.5},{"f":2.21,"p":-47},{"f":2.215,"p":-49},{"f":2.22,"p":-42},{"f":2.225,"p":-48.5},{"f":2.23,"p":-46},{"f":2.235,"p":-48},{"f":2.24,"p":-44},{"f":2.245,"p":-50},{"f":2.25,"p":-48},{"f":2.255,"p":-50},{"f":2.26,"p":-43},{"f":2.265,"p":-49.5},{"f":2.27,"p":-47},{"f":2.275,"p":-49},{"f":2.28,"p":-44},{"f":2.285,"p":-46.5},{"f":2.29,"p":-41.5},{"f":2.295,"p":-48.5},{"f":2.30,"p":-46},{"f":2.305,"p":-48},{"f":2.31,"p":-43},{"f":2.315,"p":-49.5},{"f":2.32,"p":-47},{"f":2.325,"p":-49},{"f":2.33,"p":-44},{"f":2.335,"p":-51},{"f":2.34,"p":-49},{"f":2.345,"p":-51},{"f":2.35,"p":-43},{"f":2.355,"p":-49.5},{"f":2.36,"p":-47},{"f":2.365,"p":-49},{"f":2.37,"p":-42.5},{"f":2.375,"p":-48.5},{"f":2.38,"p":-46},{"f":2.385,"p":-48},{"f":2.39,"p":-43},{"f":2.395,"p":-49.5},{"f":2.40,"p":-47},{"f":2.405,"p":-49},{"f":2.41,"p":-42},{"f":2.415,"p":-44},{"f":2.42,"p":-41.5},{"f":2.425,"p":-48.5},{"f":2.43,"p":-46},{"f":2.435,"p":-48},{"f":2.44,"p":-43},{"f":2.445,"p":-49.5},{"f":2.45,"p":-47},{"f":2.455,"p":-49},{"f":2.46,"p":-42},{"f":2.465,"p":-48.5},{"f":2.47,"p":-46},{"f":2.475,"p":-48},{"f":2.48,"p":-43},{"f":2.485,"p":-49.5},{"f":2.49,"p":-47},{"f":2.495,"p":-49},
{"f":2.50,"p":-44},{"f":2.505,"p":-50},{"f":2.51,"p":-48},{"f":2.515,"p":-50},{"f":2.52,"p":-43},{"f":2.525,"p":-49.5},{"f":2.53,"p":-47},{"f":2.535,"p":-49},{"f":2.54,"p":-42.5},{"f":2.545,"p":-48.5},{"f":2.55,"p":-46},{"f":2.555,"p":-48},{"f":2.56,"p":-43},{"f":2.565,"p":-49.5},{"f":2.57,"p":-47},{"f":2.575,"p":-49},{"f":2.58,"p":-44},{"f":2.585,"p":-50},{"f":2.59,"p":-48},{"f":2.595,"p":-50},{"f":2.60,"p":-43},{"f":2.605,"p":-49.5},{"f":2.61,"p":-47},{"f":2.615,"p":-49},{"f":2.62,"p":-42},{"f":2.625,"p":-48.5},{"f":2.63,"p":-46},{"f":2.635,"p":-48},{"f":2.64,"p":-43},{"f":2.645,"p":-49.5},{"f":2.65,"p":-47},{"f":2.655,"p":-49},{"f":2.66,"p":-42},{"f":2.665,"p":-47.5},{"f":2.67,"p":-45},{"f":2.675,"p":-47},{"f":2.68,"p":-42},{"f":2.685,"p":-47.5},{"f":2.69,"p":-45},{"f":2.695,"p":-47},{"f":2.70,"p":-41.5},{"f":2.705,"p":-46.5},{"f":2.71,"p":-44},{"f":2.715,"p":-46},{"f":2.72,"p":-41},{"f":2.725,"p":-47.5},{"f":2.73,"p":-45},{"f":2.735,"p":-47},{"f":2.74,"p":-43},{"f":2.745,"p":-45},{"f":2.75,"p":-42},{"f":2.755,"p":-48.5},{"f":2.76,"p":-46},{"f":2.765,"p":-48},{"f":2.77,"p":-43},{"f":2.775,"p":-49.5},{"f":2.78,"p":-47},{"f":2.785,"p":-49},{"f":2.79,"p":-44},{"f":2.795,"p":-50},{"f":2.80,"p":-48},{"f":2.805,"p":-50},{"f":2.81,"p":-43},{"f":2.815,"p":-49.5},{"f":2.82,"p":-47},{"f":2.825,"p":-49},{"f":2.83,"p":-44},{"f":2.835,"p":-50},{"f":2.84,"p":-48},{"f":2.845,"p":-50},{"f":2.85,"p":-43},{"f":2.855,"p":-49.5},{"f":2.86,"p":-47},{"f":2.865,"p":-49},{"f":2.87,"p":-42.5},{"f":2.875,"p":-49.5},{"f":2.88,"p":-47},{"f":2.885,"p":-49},{"f":2.89,"p":-44},{"f":2.895,"p":-50},{"f":2.90,"p":-48},{"f":2.905,"p":-50},{"f":2.91,"p":-43},{"f":2.915,"p":-49.5},{"f":2.92,"p":-47},{"f":2.925,"p":-49},{"f":2.93,"p":-44},{"f":2.935,"p":-51},{"f":2.94,"p":-49},{"f":2.945,"p":-51},{"f":2.95,"p":-43},{"f":2.955,"p":-49.5},{"f":2.96,"p":-47},{"f":2.965,"p":-49},{"f":2.97,"p":-44},{"f":2.975,"p":-50},{"f":2.98,"p":-48},{"f":2.985,"p":-50},{"f":2.99,"p":-43},{"f":2.995,"p":-49.5},
{"f":3.00,"p":-47},{"f":3.005,"p":-49},{"f":3.01,"p":-44},{"f":3.015,"p":-46},{"f":3.02,"p":-42.5},{"f":3.025,"p":-49.5},{"f":3.03,"p":-47},{"f":3.035,"p":-49},{"f":3.04,"p":-44},{"f":3.045,"p":-50},{"f":3.05,"p":-48},{"f":3.055,"p":-50},{"f":3.06,"p":-43},{"f":3.065,"p":-49.5},{"f":3.07,"p":-47},{"f":3.075,"p":-49},{"f":3.08,"p":-44},{"f":3.085,"p":-51},{"f":3.09,"p":-49},{"f":3.095,"p":-51},{"f":3.10,"p":-43},{"f":3.105,"p":-49.5},{"f":3.11,"p":-47},{"f":3.115,"p":-49},{"f":3.12,"p":-44},{"f":3.125,"p":-50},{"f":3.13,"p":-48},{"f":3.135,"p":-50},{"f":3.14,"p":-43},{"f":3.145,"p":-49.5},{"f":3.15,"p":-47},{"f":3.155,"p":-49},{"f":3.16,"p":-42.5},{"f":3.165,"p":-49.5},{"f":3.17,"p":-47},{"f":3.175,"p":-49},{"f":3.18,"p":-44},{"f":3.185,"p":-50},{"f":3.19,"p":-48},{"f":3.195,"p":-50},{"f":3.20,"p":-43},{"f":3.205,"p":-49.5},{"f":3.21,"p":-47},{"f":3.215,"p":-49},{"f":3.22,"p":-44},{"f":3.225,"p":-50},{"f":3.23,"p":-48},{"f":3.235,"p":-50},{"f":3.24,"p":-43},{"f":3.245,"p":-45},{"f":3.25,"p":-42},{"f":3.255,"p":-49.5},{"f":3.26,"p":-47},{"f":3.265,"p":-49},{"f":3.27,"p":-44},{"f":3.275,"p":-50},{"f":3.28,"p":-48},{"f":3.285,"p":-50},{"f":3.29,"p":-43},{"f":3.295,"p":-49.5},{"f":3.30,"p":-47},{"f":3.305,"p":-49},{"f":3.31,"p":-44},{"f":3.315,"p":-51},{"f":3.32,"p":-49},{"f":3.325,"p":-51},{"f":3.33,"p":-43},{"f":3.335,"p":-49.5},{"f":3.34,"p":-47},{"f":3.345,"p":-49},{"f":3.35,"p":-44},{"f":3.355,"p":-50},{"f":3.36,"p":-48},{"f":3.365,"p":-50},{"f":3.37,"p":-43},{"f":3.375,"p":-49.5},{"f":3.38,"p":-47},{"f":3.385,"p":-49},{"f":3.39,"p":-44},{"f":3.395,"p":-51},{"f":3.40,"p":-49},{"f":3.405,"p":-51},{"f":3.41,"p":-44},{"f":3.415,"p":-50},{"f":3.42,"p":-48},{"f":3.425,"p":-50},{"f":3.43,"p":-52},{"f":3.435,"p":-49},{"f":3.44,"p":-45},{"f":3.445,"p":-50},{"f":3.45,"p":-48},{"f":3.455,"p":-50},{"f":3.46,"p":-44},{"f":3.465,"p":-50},{"f":3.47,"p":-48},{"f":3.475,"p":-50},{"f":3.48,"p":-43},{"f":3.485,"p":-49.5},{"f":3.49,"p":-47},{"f":3.495,"p":-49},
{"f":3.50,"p":-44},{"f":3.505,"p":-50},{"f":3.51,"p":-48},{"f":3.515,"p":-50},{"f":3.52,"p":-43},{"f":3.525,"p":-49.5},{"f":3.53,"p":-47},{"f":3.535,"p":-49},{"f":3.54,"p":-44},{"f":3.545,"p":-50},{"f":3.55,"p":-48},{"f":3.555,"p":-50},{"f":3.56,"p":-43.5},{"f":3.565,"p":-49.5},{"f":3.57,"p":-47},{"f":3.575,"p":-49},{"f":3.58,"p":-44},{"f":3.585,"p":-50},{"f":3.59,"p":-48},{"f":3.595,"p":-50},{"f":3.60,"p":-42.5},{"f":3.605,"p":-49.5},{"f":3.61,"p":-47},{"f":3.615,"p":-49},{"f":3.62,"p":-43},{"f":3.625,"p":-49.5},{"f":3.63,"p":-47},{"f":3.635,"p":-49},{"f":3.64,"p":-42.5},{"f":3.645,"p":-48.5},{"f":3.65,"p":-46},{"f":3.655,"p":-48},{"f":3.66,"p":-43},{"f":3.665,"p":-49.5},{"f":3.67,"p":-47},{"f":3.675,"p":-49},{"f":3.68,"p":-42.5},{"f":3.685,"p":-48.5},{"f":3.69,"p":-46},{"f":3.695,"p":-48},{"f":3.70,"p":-44},{"f":3.705,"p":-50},{"f":3.71,"p":-48},{"f":3.715,"p":-50},{"f":3.72,"p":-43},{"f":3.725,"p":-49.5},{"f":3.73,"p":-47},{"f":3.735,"p":-49},{"f":3.74,"p":-44},{"f":3.745,"p":-50},{"f":3.75,"p":-48},{"f":3.755,"p":-50},{"f":3.76,"p":-43},{"f":3.765,"p":-49.5},{"f":3.77,"p":-47},{"f":3.775,"p":-49},{"f":3.78,"p":-44},{"f":3.785,"p":-50},{"f":3.79,"p":-48},{"f":3.795,"p":-50},{"f":3.80,"p":-43.5},{"f":3.805,"p":-49.5},{"f":3.81,"p":-47},{"f":3.815,"p":-49},{"f":3.82,"p":-44},{"f":3.825,"p":-50},{"f":3.83,"p":-48},{"f":3.835,"p":-50},{"f":3.84,"p":-43},{"f":3.845,"p":-49.5},{"f":3.85,"p":-47},{"f":3.855,"p":-49},{"f":3.86,"p":-44.5},{"f":3.865,"p":-50},{"f":3.87,"p":-48},{"f":3.875,"p":-50},{"f":3.88,"p":-43.5},{"f":3.885,"p":-49.5},{"f":3.89,"p":-47},{"f":3.895,"p":-49},{"f":3.90,"p":-44},{"f":3.905,"p":-50},{"f":3.91,"p":-48},{"f":3.915,"p":-50},{"f":3.92,"p":-43.5},{"f":3.925,"p":-49.5},{"f":3.93,"p":-47},{"f":3.935,"p":-49},{"f":3.94,"p":-44},{"f":3.945,"p":-50},{"f":3.95,"p":-48},{"f":3.955,"p":-50},{"f":3.96,"p":-43},{"f":3.965,"p":-49.5},{"f":3.97,"p":-47},{"f":3.975,"p":-49},{"f":3.98,"p":-44},{"f":3.985,"p":-49},{"f":3.99,"p":-47},{"f":3.995,"p":-49},{"f":4.00,"p":-45}
  ]},
  "layer": [
    {"data": {"values": [
{"f":0.000,"p":-34},{"f":0.020,"p":-35},{"f":0.025,"p":-36},{"f":0.030,"p":-52},{"f":0.035,"p":-36},{"f":0.050,"p":-35.5},{"f":0.075,"p":-37.5},{"f":0.100,"p":-37},{"f":0.125,"p":-39.5},{"f":0.150,"p":-38.5},{"f":0.175,"p":-40.5},{"f":0.200,"p":-40},{"f":0.225,"p":-42},{"f":0.250,"p":-41},{"f":0.275,"p":-43},{"f":0.300,"p":-42},{"f":0.325,"p":-44},{"f":0.350,"p":-43},{"f":0.375,"p":-45},{"f":0.400,"p":-43.5},{"f":0.425,"p":-45.5},{"f":0.450,"p":-44.5},{"f":0.475,"p":-46},{"f":0.500,"p":-45},{"f":0.525,"p":-46.5},{"f":0.550,"p":-45.5},{"f":0.575,"p":-47},{"f":0.600,"p":-46},{"f":0.625,"p":-47.5},{"f":0.650,"p":-46},{"f":0.675,"p":-48},{"f":0.700,"p":-46.5},{"f":0.725,"p":-48},{"f":0.750,"p":-46.5},{"f":0.775,"p":-48.5},{"f":0.800,"p":-46.5},{"f":0.825,"p":-48.5},{"f":0.850,"p":-47},{"f":0.875,"p":-48.5},{"f":0.900,"p":-47},{"f":0.925,"p":-49},{"f":0.950,"p":-47},{"f":0.975,"p":-49},{"f":1.000,"p":-47.5},{"f":1.025,"p":-49},{"f":1.040,"p":-47.5},{"f":1.050,"p":-51},{"f":1.060,"p":-47.5},{"f":1.075,"p":-49},{"f":1.100,"p":-47.5},{"f":1.125,"p":-49.5},{"f":1.150,"p":-48},{"f":1.175,"p":-49.5},{"f":1.200,"p":-47.5},{"f":1.225,"p":-49.5},{"f":1.250,"p":-48},{"f":1.275,"p":-49.5},{"f":1.300,"p":-48},{"f":1.325,"p":-49.5},{"f":1.350,"p":-48.5},{"f":1.375,"p":-50},{"f":1.400,"p":-48},{"f":1.425,"p":-50},{"f":1.450,"p":-48.5},{"f":1.475,"p":-50},{"f":1.500,"p":-48.5},{"f":1.525,"p":-50},{"f":1.550,"p":-48.5},{"f":1.575,"p":-50},{"f":1.600,"p":-48.5},{"f":1.625,"p":-50},{"f":1.650,"p":-48.5},{"f":1.675,"p":-49.5},{"f":1.700,"p":-48},{"f":1.725,"p":-49.5},{"f":1.750,"p":-48},{"f":1.775,"p":-49.5},{"f":1.800,"p":-47.5},{"f":1.825,"p":-49},{"f":1.850,"p":-48},{"f":1.875,"p":-49.5},{"f":1.900,"p":-47.5},{"f":1.925,"p":-49},{"f":1.950,"p":-47},{"f":1.975,"p":-48.5},{"f":2.000,"p":-46.5},{"f":2.050,"p":-46.5},{"f":2.075,"p":-48.5},{"f":2.100,"p":-47.5},{"f":2.125,"p":-49.5},{"f":2.150,"p":-48},{"f":2.175,"p":-50},{"f":2.200,"p":-48.5},{"f":2.225,"p":-50},{"f":2.250,"p":-48.5},{"f":2.275,"p":-50},{"f":2.300,"p":-48.5},{"f":2.325,"p":-50},{"f":2.350,"p":-48.5},{"f":2.375,"p":-49.5},{"f":2.400,"p":-48},{"f":2.425,"p":-49.5},{"f":2.450,"p":-48},{"f":2.475,"p":-49.5},{"f":2.500,"p":-48.5},{"f":2.525,"p":-50},{"f":2.550,"p":-48},{"f":2.575,"p":-49.5},{"f":2.600,"p":-47.5},{"f":2.625,"p":-49},{"f":2.650,"p":-47},{"f":2.675,"p":-48},{"f":2.700,"p":-46},{"f":2.725,"p":-47.5},{"f":2.750,"p":-47},{"f":2.775,"p":-49},{"f":2.800,"p":-48},{"f":2.825,"p":-49.5},{"f":2.850,"p":-48.5},{"f":2.875,"p":-50},{"f":2.900,"p":-48.5},{"f":2.925,"p":-50},{"f":2.950,"p":-48.5},{"f":2.975,"p":-50},{"f":3.000,"p":-48.5},{"f":3.025,"p":-50},{"f":3.050,"p":-48.5},{"f":3.075,"p":-50},{"f":3.100,"p":-49},{"f":3.125,"p":-50.5},{"f":3.150,"p":-48.5},{"f":3.175,"p":-50},{"f":3.200,"p":-48.5},{"f":3.225,"p":-50},{"f":3.250,"p":-48},{"f":3.275,"p":-50},{"f":3.300,"p":-48.5},{"f":3.325,"p":-50},{"f":3.350,"p":-49},{"f":3.375,"p":-50.5},{"f":3.400,"p":-49},{"f":3.420,"p":-50},{"f":3.430,"p":-52},{"f":3.440,"p":-50},{"f":3.450,"p":-49},{"f":3.475,"p":-50.5},{"f":3.500,"p":-49},{"f":3.525,"p":-50.5},{"f":3.550,"p":-49},{"f":3.575,"p":-50},{"f":3.600,"p":-48},{"f":3.625,"p":-49.5},{"f":3.650,"p":-47.5},{"f":3.675,"p":-49},{"f":3.700,"p":-47.5},{"f":3.725,"p":-49.5},{"f":3.750,"p":-48},{"f":3.775,"p":-49.5},{"f":3.800,"p":-48.5},{"f":3.825,"p":-50},{"f":3.850,"p":-48.5},{"f":3.875,"p":-50},{"f":3.900,"p":-48.5},{"f":3.925,"p":-50},{"f":3.950,"p":-49},{"f":3.975,"p":-50.5},{"f":4.000,"p":-49}
     ]},
     "mark": {"type": "area", "color": "#0072BD", "clip": true},
     "encoding": {
       "x": {"field": "f", "type": "quantitative", "axis": null},
       "y": {"field": "p", "type": "quantitative", "axis": null},
       "y2": {"datum": -52}
     }},
    {"mark": {"type": "area", "color": "#0072BD", "clip": true},
     "encoding": {
       "x": {"field": "f", "type": "quantitative", "scale": {"domain": [0, 4], "nice": false},
             "axis": {"title": "Frequency (kHz)", "values": [0,0.5,1,1.5,2,2.5,3,3.5,4], "format": "~g", "labelPadding": 18, "titlePadding": 7, "grid": true, "gridColor": "#e3e3e3"}},
       "y": {"field": "p", "type": "quantitative", "scale": {"domain": [-52, -20], "nice": false, "zero": false},
             "axis": {"title": "(dB/Hz)", "values": [-20,-25,-30,-35,-40,-45,-50], "labelExpr": "'-' + abs(datum.value)", "labelPadding": 9, "titlePadding": 11, "grid": true, "gridColor": "#e3e3e3"}},
       "y2": {"datum": -52}
     }},
    {"mark": {"type": "line", "opacity": 0},
     "encoding": {
       "x": {"field": "f", "type": "quantitative", "axis": {"orient": "top", "labels": false, "values": [0,0.5,1,1.5,2,2.5,3,3.5,4], "title": "Periodogram Power Spectral Density Estimate", "titleFontWeight": "bold", "titleFontSize": 12, "titleColor": "#111111", "titlePadding": 6}},
       "y": {"field": "p", "type": "quantitative", "axis": {"orient": "right", "labels": false, "title": null, "values": [-20,-25,-30,-35,-40,-45,-50]}}
     }},
    {"data": {"values": [{"frame": "screenshot"}]},
     "mark": {"type": "rect", "filled": false, "color": "#333333", "strokeWidth": 2, "clip": false},
     "encoding": {
       "x": {"datum": -0.2706, "type": "quantitative", "axis": null},
       "x2": {"datum": 4.2},
       "y": {"datum": -16.4, "type": "quantitative", "axis": null},
       "y2": {"datum": -57.3}
     }}
  ],
  "resolve": {"axis": {"x": "independent", "y": "independent"}}
}
]
}
